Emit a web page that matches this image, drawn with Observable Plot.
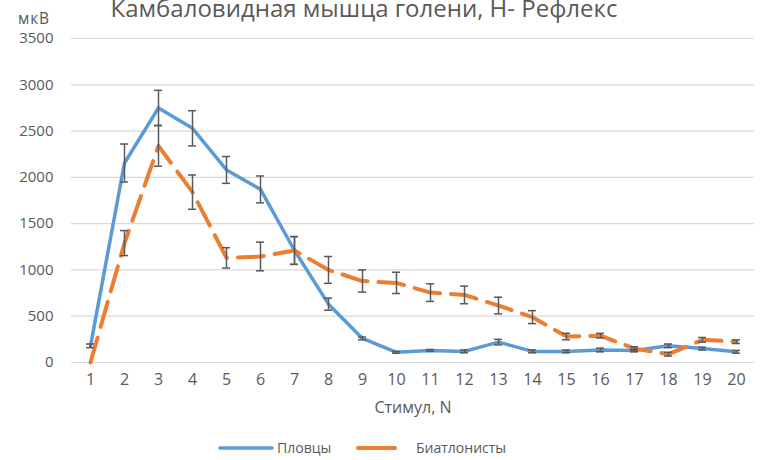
<!DOCTYPE html>
<html><head><meta charset="utf-8">
<script src="https://cdn.jsdelivr.net/npm/d3@7"></script>
<script src="https://cdn.jsdelivr.net/npm/@observablehq/plot@0.6"></script>
<style>
body{margin:0;background:#fff;font-family:"Open Sans",sans-serif;}
#wrap{position:relative;width:763px;height:460px;overflow:hidden;background:#fff;}
#title{position:absolute;left:0;width:728px;text-align:center;top:-9px;font-size:24px;color:#595959;white-space:nowrap;}
#unit{position:absolute;left:18px;top:7px;font-size:15.5px;letter-spacing:0.8px;color:#595959;}
#legend{position:absolute;top:438px;left:0;width:763px;height:20px;font-size:14px;color:#595959;}
#legend span{position:absolute;top:0;line-height:20px;}
#legend svg{position:absolute;top:0;}
#chart{position:absolute;left:0;top:0;}
</style></head>
<body>
<div id="wrap">
  <div id="chart"></div>
  <div id="title">Камбаловидная мышца голени, Н- Рефлекс</div>
  <div id="unit">мкВ</div>
  <div id="legend"></div>
</div>
<script>
const stimuli = [1,2,3,4,5,6,7,8,9,10,11,12,13,14,15,16,17,18,19,20];
const swimmers = [180,2155,2750,2530,2080,1870,1210,630,260,110,130,120,220,120,120,135,130,180,150,115];
const swimmersErr = [20,205,190,190,145,145,150,65,15,10,10,15,30,15,15,20,15,20,15,15];
const biathletes = [0,1290,2340,1840,1130,1145,1210,1000,880,860,755,730,615,490,280,290,150,90,245,225];
const biathletesErr = [0,135,220,185,110,155,150,145,120,115,95,95,90,70,35,25,20,20,25,20];
const yTicks = [0,500,1000,1500,2000,2500,3000,3500];
const seriesNames = ["Пловцы","Биатлонисты"];
const seriesColors = ["#5B9BD5","#ED7D31"];

const rows = [
  ...stimuli.map((x,i)=>({series:seriesNames[0], x, y:swimmers[i], e:swimmersErr[i]})),
  ...stimuli.map((x,i)=>({series:seriesNames[1], x, y:biathletes[i], e:biathletesErr[i]}))
];
const errRows = rows.filter(d=>d.e>0);
const errStyle = {stroke:"#595959", strokeWidth:1.5};

const chart = Plot.plot({
  width:763, height:460,
  marginLeft:71, marginRight:9, marginTop:38, marginBottom:98,
  style:{fontFamily:"Open Sans, sans-serif", fontSize:"15px", color:"#595959", background:"transparent"},
  x:{type:"point", domain:stimuli, padding:0.5},
  y:{domain:[0,3500]},
  marks:[
    Plot.gridY(yTicks,{stroke:"#d9d9d9", strokeOpacity:1, strokeWidth:1.2}),
    Plot.axisY(yTicks,{tickSize:0, tickPadding:18, tickFormat:d=>String(d), label:null, fill:"#595959", fontSize:15}),
    Plot.axisX(stimuli,{tickSize:0, tickPadding:11, tickFormat:d=>String(d), label:"Стимул, N", labelAnchor:"center", labelArrow:"none", labelOffset:50, fill:"#595959", fontSize:16}),
    Plot.line(rows.filter(d=>d.series===seriesNames[0]),{x:"x", y:"y", stroke:seriesColors[0], strokeWidth:3.5, strokeLinejoin:"round"}),
    Plot.line(rows.filter(d=>d.series===seriesNames[1]),{x:"x", y:"y", stroke:seriesColors[1], strokeWidth:4, strokeDasharray:"26,11"}),
    Plot.ruleX(errRows,{x:"x", y1:d=>d.y-d.e, y2:d=>d.y+d.e, ...errStyle}),
    Plot.ruleY(errRows,{x1:"x", x2:"x", y:d=>d.y-d.e, insetLeft:-4, insetRight:-4, ...errStyle}),
    Plot.ruleY(errRows,{x1:"x", x2:"x", y:d=>d.y+d.e, insetLeft:-4, insetRight:-4, ...errStyle})
  ]
});
document.getElementById("chart").appendChild(chart);

const legend = document.getElementById("legend");
legend.innerHTML = `
<svg width="60" height="20" style="left:216px"><line x1="4" y1="10" x2="56" y2="10" stroke="${seriesColors[0]}" stroke-width="3.5" stroke-linecap="round"/></svg>
<span style="left:277px">${seriesNames[0]}</span>
<svg width="45" height="20" style="left:354px"><line x1="4" y1="10" x2="41" y2="10" stroke="${seriesColors[1]}" stroke-width="4" stroke-linecap="round"/></svg>
<span style="left:416px">${seriesNames[1]}</span>`;
</script>
</body></html>
